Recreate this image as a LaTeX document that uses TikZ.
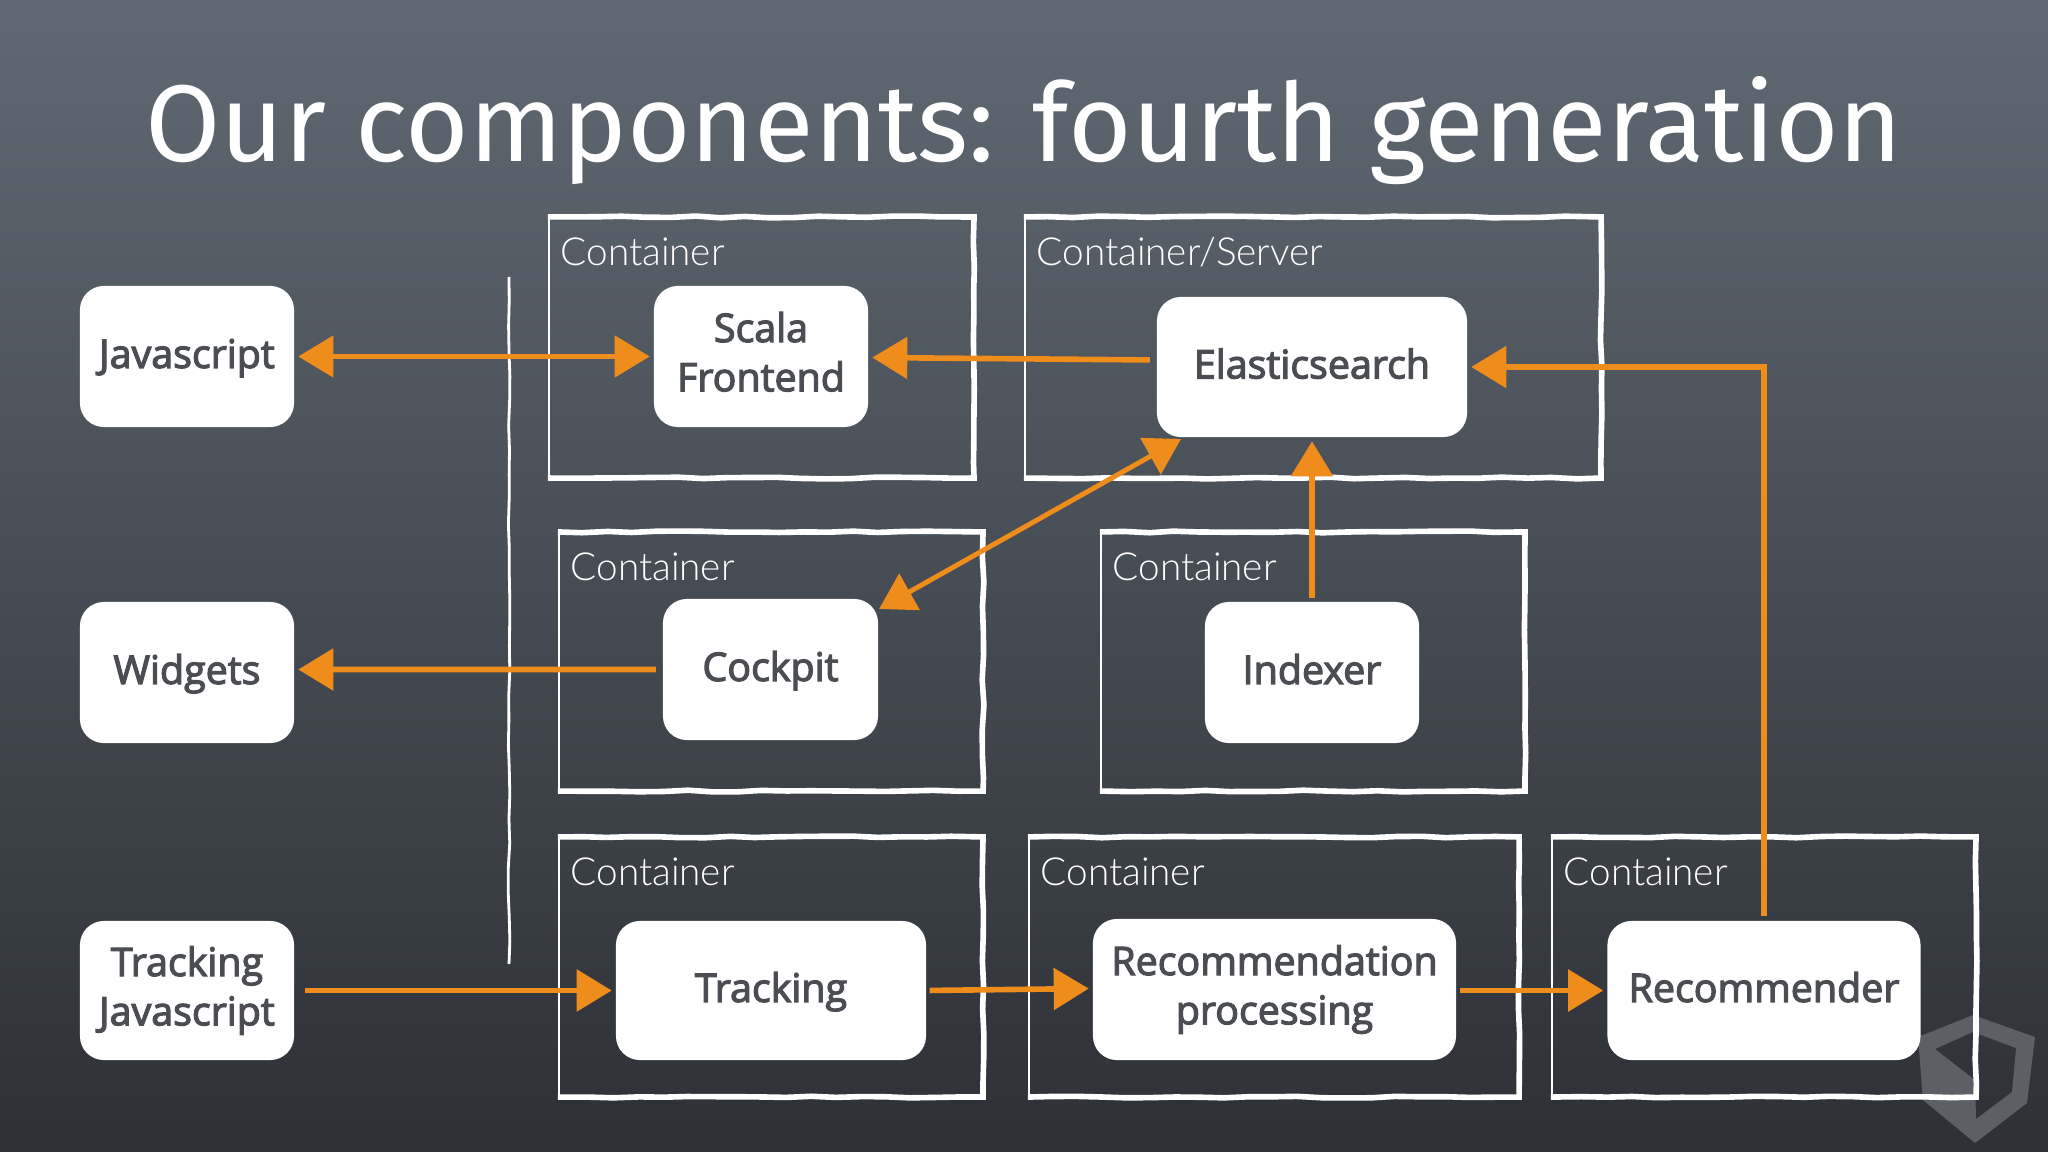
\documentclass[tikz,border=0pt]{standalone}
\usepackage{fontspec}
\setmainfont{Open Sans}
\newfontfamily\boxfont[FakeBold=3]{Open Sans}
\newfontfamily\titlefont{Fira Sans}
\newfontfamily\lightfont{Lato Light}
\usetikzlibrary{arrows.meta,decorations.pathmorphing,calc}
\definecolor{bgtop}{HTML}{606972}
\definecolor{bgbot}{HTML}{2D3036}
\definecolor{ink}{HTML}{4A4D52}
\definecolor{orng}{HTML}{EE8C1C}
\definecolor{wmark}{HTML}{5C6066}
\pgfmathsetseed{7}
\tikzset{
  x=0.01cm,y=-0.01cm,
  rough/.style={decorate,decoration={random steps,segment length=7pt,amplitude=0.25pt}},
  compbox/.style={rectangle,rounded corners=6.5pt,fill=white,draw=white,line width=0.6pt,
    text=ink,font=\boxfont\fontsize{11.2}{14}\selectfont,align=center,inner sep=0pt,
    execute at begin node={\rule{0pt}{9.25pt}},execute at end node={\rule[-2.75pt]{0pt}{2.75pt}}},
  contbox/.style={rectangle,draw=white,line width=0.6pt,inner sep=0pt},
  thickedge/.style={draw=white,line width=1.6pt,line join=miter,line cap=butt,rough},
  contlabel/.style={text=white,font=\lightfont\fontsize{11}{13}\selectfont,anchor=base west,inner sep=0pt},
  flow/.style={draw=orng,line width=1.6pt,-{Triangle[length=0.35cm,width=0.41cm,fill=orng]},shorten >=1.2pt},
  flowboth/.style={draw=orng,line width=1.4pt,{Triangle[length=0.35cm,width=0.41cm,fill=orng]}-{Triangle[length=0.35cm,width=0.41cm,fill=orng]}}
}
\newcommand{\compnode}[5]{\node[compbox,minimum width=#3*0.01cm,minimum height=#4*0.01cm] (#1) at (#2) {#5};}
\newcommand{\contnode}[5]{%
  \node[contbox,minimum width=#3*0.01cm,minimum height=#4*0.01cm] (#1) at (#2) {};
  \draw[thickedge] (#1.north west) -- (#1.north east) -- (#1.south east) -- (#1.south west);
  \node[contlabel] (#1l) at ($(#1.north west)+(12,49)$) {#5};}
\begin{document}
\begin{tikzpicture}
\useasboundingbox (0,0) rectangle (2048,1152);
\fill[top color=bgtop,bottom color=bgbot] (0,0) rectangle (2048,1152);
% watermark
\fill[wmark,even odd rule] (1973,1015) -- (2035,1037) -- (2027,1103) -- (1975,1143) -- (1923,1100) -- (1918,1037) -- cycle
  (1935,1049) -- (1973,1032) -- (2016,1048) -- (2012,1092) -- (1976,1119) -- (1975,1080) -- cycle;
% title
\node[text=white,font=\titlefont\fontsize{31}{36}\selectfont,inner sep=0pt] (title) at (1024,131) {Our components: fourth generation};
% divider
\coordinate (divtop) at (509,277);
\coordinate (divbot) at (509,964);
\draw[white,line width=0.8pt,rough] (divtop) -- (divbot);
% containers
\contnode{c1}{761,347.5}{424}{259}{Container}
\contnode{c2}{1312.5,347.5}{575}{259}{Container/Server}
\contnode{c3}{770.5,661.5}{423}{257}{Container}
\contnode{c4}{1312.5,661.5}{423}{257}{Container}
\contnode{c5}{770.5,967}{423}{258}{Container}
\contnode{c6}{1273.5,967}{489}{258}{Container}
\contnode{c7}{1763.5,967}{423}{258}{Container}
% components
\compnode{js}{187,356.5}{212}{139}{Javascript}
\compnode{scala}{761,356.5}{212}{139}{Scala\\Frontend}
\compnode{widgets}{187,672.5}{212}{139}{Widgets}
\compnode{cockpit}{770.5,669.5}{213}{139}{Cockpit}
\compnode{indexer}{1312,672.5}{212}{139}{Indexer}
\compnode{es}{1312,367}{308}{138}{Elasticsearch}
\compnode{tjs}{187,990.5}{212}{137}{Tracking\\Javascript}
\compnode{tracking}{771,990.5}{308}{137}{Tracking}
\compnode{recproc}{1274.5,989.5}{361}{139}{Recommendation\\processing}
\compnode{rec}{1764,990.5}{311}{137}{Recommender}
% connectors
\draw[flowboth,shorten >=1.2pt,shorten <=1.2pt] (js.east) -- (scala.west);
\draw[flow,shorten <=2pt] ([yshift=0.07cm]es.west) -- ([yshift=-0.01cm]scala.east);
\draw[flow,shorten <=1.5pt] (rec.north) |- (es.east);
\draw[flow,shorten <=1.2pt] (indexer.north) -- (es.south);
\draw[flowboth] ([xshift=0.24cm,yshift=-0.02cm]es.south west) -- ([xshift=0.01cm,yshift=-0.10cm]cockpit.north east);
\draw[flow,shorten <=2pt] (cockpit.west) -- ([yshift=0.03cm]widgets.east);
\draw[flow,shorten <=3pt] (tjs.east) -- (tracking.west);
\draw[flow,shorten <=1pt] (tracking.east) -- ([yshift=0.01cm]recproc.west);
\draw[flow,shorten <=1pt] ([yshift=-0.01cm]recproc.east) -- (rec.west);
\end{tikzpicture}
\end{document}
